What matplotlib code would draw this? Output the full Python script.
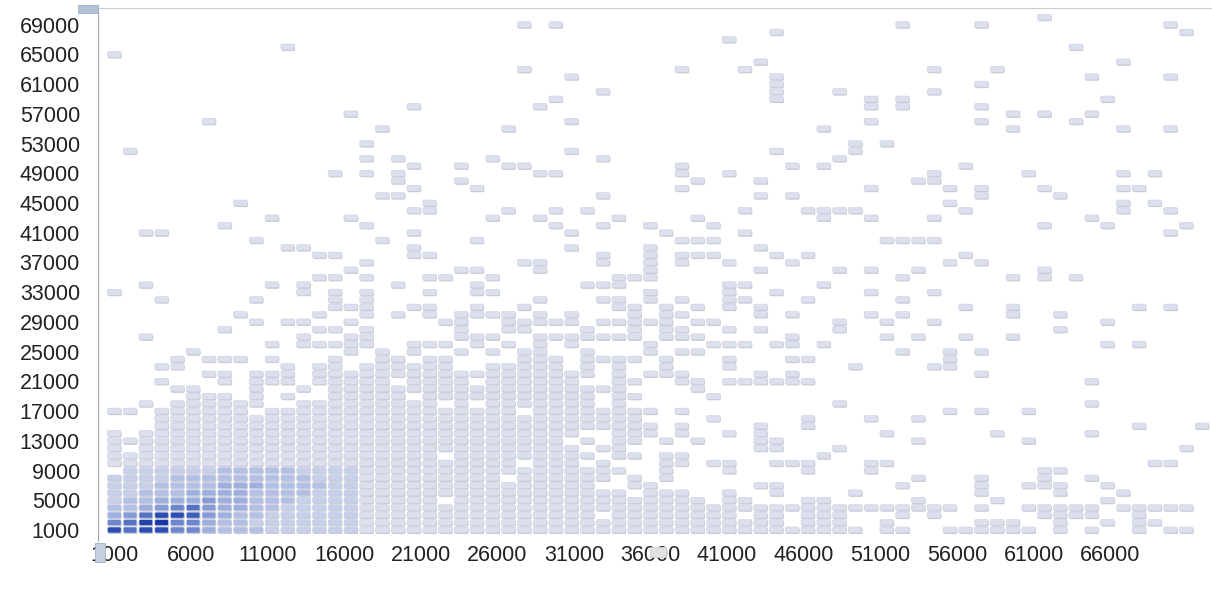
#binned density chart - rounded cells, darker blue = more points
import numpy as np
import matplotlib.pyplot as plt
from matplotlib.patches import FancyBboxPatch, Rectangle
from matplotlib.colors import LinearSegmentedColormap

plt.rcParams['font.family'] = ['Liberation Sans', 'DejaVu Sans']

# occupied bins for each row: x bin index (1 = first bin) per y value in thousands
rows = {
    70: "60",
    69: "27 29 51 56 68",
    68: "43 69",
    67: "40",
    66: "12 62",
    65: "1",
    64: "42 65",
    63: "27 37 41 53 57",
    62: "30 43 63 68",
    61: "43 56",
    60: "32 43 47 53",
    59: "29 43 49 51 64",
    58: "20 28 49 51 56",
    57: "16 58 60 63",
    56: "7 30 49 56 62",
    55: "18 26 46 58 65 68",
    53: "17 48 50",
    52: "2 30 43 48",
    51: "17 19 25 32 47",
    50: "20 23 26 27 37 44 46 55",
    49: "15 17 19 28 29 37 40 53 59 65 67",
    48: "19 23 38 42 52 53",
    47: "20 24 37 49 54 56 60 65 66",
    46: "18 19 32 42 44 56 61",
    45: "9 21 54 65 67",
    44: "20 21 26 29 31 41 45-48 55 65 68",
    43: "11 16 25 28 33 38 46 49 53 63",
    42: "8 17 29 32 35 39 60 64 69",
    41: "3 4 20 30 36 41 68",
    40: "10 18 24 37-39 50-53",
    39: "12 13 20 30 35 42",
    38: "14 15 20 21 32 35 37-39 43 45 55",
    37: "17 27 28 32 35 37 40 44 54 56",
    36: "16 23 24 28 35 42 47 49 52 60",
    35: "14 15 17 21 22 25 33-35 51 58 60 62",
    34: "3 11 13 19 24 31-33 40 41 46",
    33: "1 13 15 17 21 24 25 35 40 43 49 53",
    32: "4 10 15 17 28 32 33 35 37 40 41 45 51",
    31: "15-17 20 21 24 27 33 34 36 38 40 42 55 58 66 68",
    30: "9 14 17 19 21 23-26 28 30 34 36 37 42 44 49 51 58 61",
    29: "10 12 13 16 22 23 26-30 32-36 38 39 47 50 53 64",
    28: "8 14 15 17 23 26 27 31 34 36 37 40 42 47 61",
    27: "3 13 16 17 23-25 28-34 36-38 44 50 52 55 58",
    26: "11 13-17 20-22 24 26 28 30 35 39-41 43 44 46 64 66",
    25: "6 16 18 20 23 25 27 28 31 35 37 38 51 54 56",
    24: "5 7-9 11 15 18 19 21 22 27-29 31-34 36 40 44 45 54",
    23: "4 5 12 14 15 17-22 25-29 31 33 36 40 48 53 54",
    22: "7 8 10-12 14-31 33 35-37 42 44 56",
    21: "4 8 10-12 14-18 20-23 25-30 33 34 37 38 40-45 63",
    20: "5 6 10 13 15-33 38",
    19: "6-8 10 12 15-19 21-31 33 34 39",
    18: "3 5-10 13-21 23 25-31 33 47 63",
    17: "1 2 4-9 11-26 28-35 37 54 56 59",
    16: "4-34 39 45 49 52",
    15: "4-35 37 42 45 66 70",
    14: "1 3-30 33-35 37 40 42 50 57 63",
    13: "1-29 31 33 34 36 38 42 43 52 59",
    12: "1 3-30 32 33 42 43 47 69",
    11: "1-21 23-31 33 34 36 37 46",
    10: "1-26 28-30 32 36 37 39 40 43-45 49 50 67 68",
    9: "2-33 36 40 45 49 60 61",
    8: "1-25 27-32 34 36 52 56 60 63",
    7: "1-31 34 35 42 43 51 56 59-61 64",
    6: "1-33 35-37 40 43 48 56 61 65",
    5: "1-21 23-38 40 41 45 46 52 57 64",
    4: "1-54 56 59-63 65-69",
    3: "1-31 33-40 42 43 45-47 51 53 60-63 66",
    2: "1-43 45-47 50 56-58 61 64 66 67",
    1: "1-48 50 51 54-59 61 63 66 68 69",
}

# x bins: first bin centred on 1000, bin width
x_first = 1000
x_bin = 1029
y_bin = 1000

# density level of the bottom-left cells (rows 1..9, x bins 1..16), 0 = single point
levels = [
    [8, 6, 8, 8, 5, 5, 3, 2, 2, 2, 1, 1, 1, 1, 1, 1],
    [5, 6, 9, 10, 5, 5, 3, 2, 2, 1, 1, 1, 1, 1, 1, 1],
    [3, 4, 6, 8, 8, 7, 4, 3, 2, 2, 1, 1, 1, 1, 1, 1],
    [2, 2, 3, 4, 5, 6, 4, 3, 3, 2, 2, 1, 1, 1, 1, 1],
    [1, 2, 2, 3, 3, 3, 4, 3, 3, 2, 2, 2, 1, 1, 1, 1],
    [1, 1, 2, 2, 2, 3, 3, 3, 3, 2, 2, 2, 2, 1, 1, 1],
    [1, 1, 1, 2, 2, 2, 2, 3, 3, 3, 2, 2, 2, 2, 1, 1],
    [1, 1, 1, 1, 2, 2, 2, 2, 2, 2, 2, 2, 2, 1, 1, 1],
    [0, 1, 1, 1, 1, 1, 1, 2, 2, 2, 2, 2, 1, 1, 1, 1],
]

xticks = list(range(1000, 70000, 5000))
yticks = list(range(1000, 70000, 4000))


def expand(spec):
    out = []
    for part in spec.split():
        if '-' in part:
            a, b = part.split('-')
            out += list(range(int(a), int(b) + 1))
        else:
            out.append(int(part))
    return out


cmap = LinearSegmentedColormap.from_list(
    'dens', ['#dbdfee', '#a9b7e3', '#6d86cf', '#3353b7', '#1a37a7'])

fig = plt.figure(figsize=(12.12, 5.92), dpi=100)
ax = fig.add_axes([98 / 1212, 1 - 541 / 592, 1 - 98 / 1212, (541 - 8) / 592])
ax.set_xlim(-64, 72650)
ax.set_ylim(-480, 71250)

w, h = 0.86 * x_bin, 0.8 * y_bin
asp = 2.06
for j, spec in rows.items():
    for k in expand(spec):
        lev = 0
        if j <= len(levels) and k <= len(levels[0]):
            lev = levels[j - 1][k - 1]
        x = x_first + (k - 1) * x_bin
        y = j * y_bin
        shadow = FancyBboxPatch((x - w / 2 + 40, y - h / 2 - 140), w, h,
                                boxstyle="round,pad=0,rounding_size=90",
                                mutation_aspect=asp, fc='#a2a5b0', ec='none',
                                alpha=0.6, zorder=1)
        face = FancyBboxPatch((x - w / 2, y - h / 2), w, h,
                              boxstyle="round,pad=0,rounding_size=90",
                              mutation_aspect=asp, fc=cmap(lev / 10),
                              ec='#cbd0e0', lw=0.4, zorder=2)
        ax.add_patch(shadow)
        ax.add_patch(face)

ax.set_xticks(xticks)
ax.set_xticklabels([str(v) for v in xticks])
ax.set_yticks(yticks)
ax.set_yticklabels([str(v) for v in yticks])
ax.tick_params(length=0, labelsize=15.5, colors='#222222')
ax.tick_params(axis='y', pad=13)
ax.tick_params(axis='x', pad=3)
for s in ['right', 'bottom']:
    ax.spines[s].set_visible(False)
ax.spines['left'].set_color('#9ea4ad')
ax.spines['top'].set_color('#c9ccd2')

# little scroll handles of the viewer
fig.patches.append(Rectangle((78 / 1212, 1 - 13 / 592), 20 / 1212, 8 / 592,
                             transform=fig.transFigure, fc='#b3c2d3', ec='#9fb0c4', lw=0.6))
fig.patches.append(Rectangle((95 / 1212, 1 - 562 / 592), 10 / 1212, 19 / 592,
                             transform=fig.transFigure, fc='#c3d0dd', ec='#9fb0c4', lw=0.6))
fig.patches.append(Rectangle((650 / 1212, 1 - 557 / 592), 16 / 1212, 10 / 592,
                             transform=fig.transFigure, fc='#e2e2e2', ec='#cfcfcf', lw=0.6))

fig.savefig('out.png', dpi=100)
